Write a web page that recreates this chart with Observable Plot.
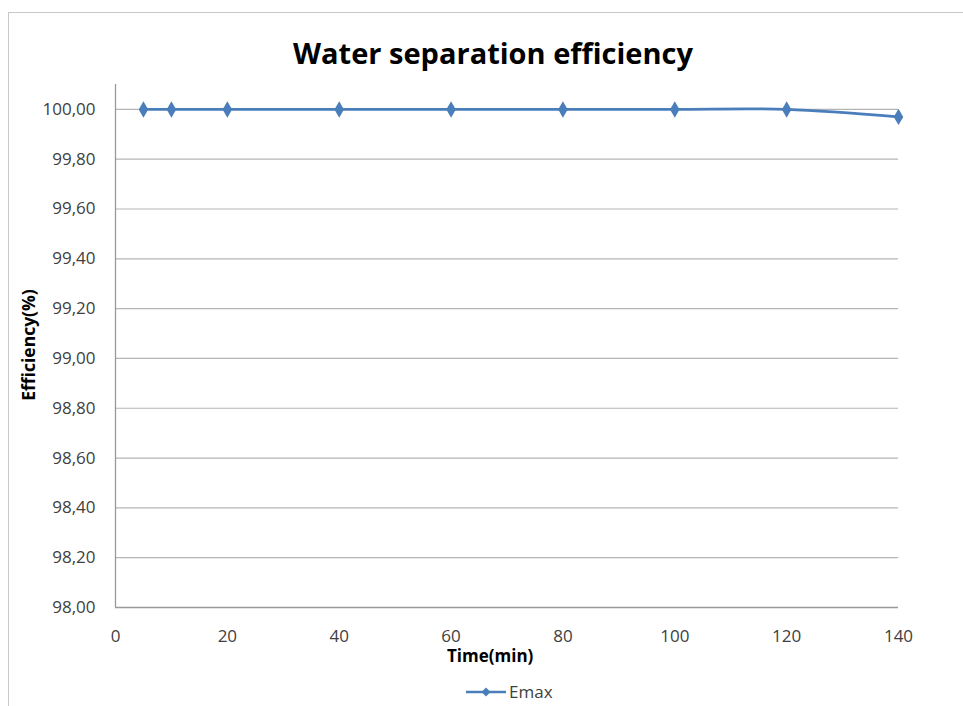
<!DOCTYPE html>
<html>
<head>
<meta charset="utf-8">
<script src="https://cdn.jsdelivr.net/npm/d3@7"></script>
<script src="https://cdn.jsdelivr.net/npm/@observablehq/plot@0.6"></script>
<style>
  html, body { margin: 0; padding: 0; background: #fff; }
  #wrap { position: relative; width: 963px; height: 706px; overflow: hidden; font-family: "Open Sans", sans-serif; }
  #frame { position: absolute; left: 8px; top: 12px; width: 970px; height: 720px; border: 1.5px solid #c8c8c8; box-sizing: border-box; }
  #chart { position: absolute; left: 0; top: 0; }
  #title { position: absolute; left: 0; width: 986px; top: 33px; text-align: center; font-weight: 700; font-size: 29px; color: #000; white-space: nowrap; }
  #xlabel { position: absolute; left: 447px; top: 644px; font-weight: 700; font-size: 17px; color: #000; }
  #legend { position: absolute; left: 466px; top: 680px; font-size: 17px; color: #404040; display: flex; align-items: center; }
</style>
</head>
<body>
<div id="wrap">
  <div id="frame"></div>
  <div id="chart"></div>
  <div id="title">Water separation efficiency</div>
  <div id="xlabel">Time(min)</div>
  <div id="legend"><svg width="40" height="12"><line x1="0" y1="6" x2="40" y2="6" stroke="#4a7ebb" stroke-width="2.5"/><path d="M20,1.5 L24.5,6 L20,10.5 L15.5,6 Z" fill="#4a7ebb"/></svg><span style="margin-left:3px">Emax</span></div>
</div>
<script>
const seriesName = "Emax";
const time = [5, 10, 20, 40, 60, 80, 100, 120, 140];
const efficiency = [100.00, 100.00, 100.00, 100.00, 100.00, 100.00, 100.00, 100.00, 99.97];
const xTicks = [0, 20, 40, 60, 80, 100, 120, 140];
const yTicks = [98.0, 98.2, 98.4, 98.6, 98.8, 99.0, 99.2, 99.4, 99.6, 99.8, 100.0];

const data = time.map((t, i) => ({time: t, eff: efficiency[i]}));
const fmt = v => v.toFixed(2).replace(".", ",");

const chart = Plot.plot({
  width: 963,
  height: 706,
  marginLeft: 115,
  marginRight: 65,
  marginTop: 84,
  marginBottom: 99,
  style: {fontFamily: "Open Sans, sans-serif", fontSize: "17px", color: "#404040", background: "transparent"},
  x: {domain: [0, 140], ticks: xTicks, label: null},
  y: {domain: [98, 100.1], ticks: yTicks, label: null},
  marks: [
    Plot.ruleY(yTicks.slice(1), {stroke: "#b5b5b5", strokeWidth: 1.2, strokeOpacity: 1}),
    Plot.ruleX([0], {y1: 98, y2: 100.1, stroke: "#999", strokeWidth: 1.3}),
    Plot.ruleY([98], {stroke: "#999", strokeWidth: 1.3}),
    Plot.axisX({ticks: xTicks, tickSize: 0, tickPadding: 22, tickFormat: d => String(d), label: null, fill: "#404040"}),
    Plot.axisY({ticks: yTicks, tickSize: 0, tickPadding: 20, tickFormat: fmt, label: null, fill: "#404040"}),
    Plot.text(["Efficiency(%)"], {frameAnchor: "left", dx: -86, dy: -1, rotate: -90, textAnchor: "middle", fontWeight: "bold", fontSize: 17.5, fill: "#000"}),
    Plot.line(data, {x: "time", y: "eff", stroke: "#4a7ebb", strokeWidth: 2.8, curve: "catmull-rom"}),
    Plot.dot(data, {x: "time", y: "eff", symbol: "diamond", r: 5, fill: "#4a7ebb", stroke: "none"})
  ]
});
document.getElementById("chart").appendChild(chart);
</script>
</body>
</html>
